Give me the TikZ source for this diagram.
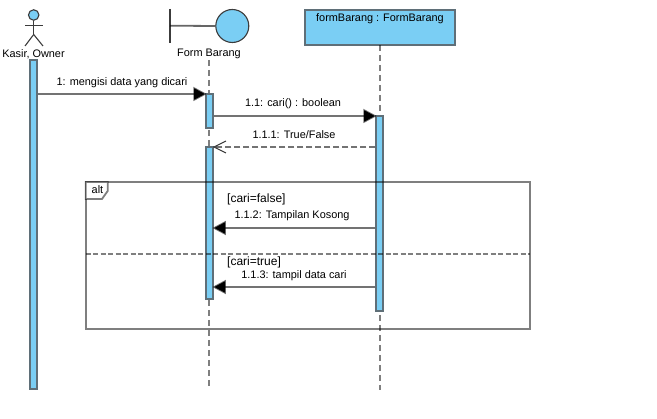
\documentclass[tikz,border=0pt]{standalone}
\usepackage{fontspec}
\setmainfont{Liberation Sans}
\usetikzlibrary{arrows.meta}
\definecolor{lightblue}{HTML}{7ACEF4}
\definecolor{inkdark}{HTML}{3C3C3C}
\definecolor{edgegray}{HTML}{5F6F78}
\tikzset{
  x=1pt,y=-1pt,
  txt/.style={font=\fontsize{10.9}{12}\selectfont,inner sep=0pt,text=black},
  guardtxt/.style={font=\fontsize{12}{13}\selectfont,inner sep=0pt,text=black},
  actorline/.style={draw=inkdark,line width=1.1pt},
  bar/.style={draw=edgegray,fill=lightblue,line width=1.8pt,minimum width=6.8pt,inner sep=0pt,anchor=north},
  life/.style={draw=black,draw opacity=.5,line width=1.8pt,dash pattern=on 6pt off 4pt},
  msg/.style={draw=black,draw opacity=.55,line width=1.8pt},
  solidhead/.style={-{Triangle[black,length=13.5pt,width=14pt,sep=0pt]},shorten >=-1.5pt},
  framebox/.style={draw=black,draw opacity=.5,line width=1.8pt},
}
\begin{document}
\begin{tikzpicture}
\useasboundingbox (0,0) rectangle (657,419);
% lifelines
\coordinate (lifeFtop) at (209,60);
\coordinate (lifeFend) at (209,388);
\coordinate (lifeBend) at (380,390);
\node[draw=edgegray,fill=lightblue,line width=1.8pt,minimum width=150pt,minimum height=35pt,inner sep=0pt,outer sep=0pt,anchor=north] (boxB) at (380,10) {};
\node[txt,anchor=center] (boxBlabel) at (380,18.5) {formBarang : FormBarang};
\draw[life] (lifeFtop) -- (lifeFend);
\draw[life] (boxB.south) -- (lifeBend);
% actor
\node[draw=inkdark,fill=lightblue,circle,minimum size=10.5pt,inner sep=0pt,line width=1.1pt] (head) at (33.7,15) {};
\coordinate (armL) at (25,25.6);
\coordinate (armR) at (43,25.6);
\coordinate (hip) at (33.7,34.5);
\coordinate (legL) at (25,46);
\coordinate (legR) at (43,46);
\draw[actorline] (head.south) -- (hip);
\draw[actorline] (armL) -- (armR);
\draw[actorline] (legL) -- (hip) -- (legR);
\node[txt] (actorlabel) at (33.5,54) {Kasir, Owner};
% boundary
\node[draw=inkdark,fill=lightblue,circle,minimum size=33pt,inner sep=0pt,line width=1.1pt] (bnd) at (232.3,26) {};
\coordinate (barT) at (170,9);
\coordinate (barB) at (170,43.5);
\coordinate (barM) at (170,25.7);
\draw[actorline] (barT) -- (barB);
\draw[draw=black,draw opacity=.6,line width=1.8pt] (barM) -- (bnd.west);
\node[txt] (bndlabel) at (209,54) {Form Barang};
% activations
\node[bar,minimum height=329pt] (actK) at (33.6,59.4) {};
\node[bar,minimum height=34pt] (actF1) at (209.6,93.4) {};
\node[bar,minimum height=152pt] (actF2) at (209.6,146.4) {};
\node[bar,minimum height=195pt] (actB) at (379.6,115.4) {};
% messages
\coordinate (m1a) at (actK.north east |- 0,94);
\coordinate (m1b) at (actF1.north west |- 0,94);
\coordinate (m2a) at (actF1.north east |- 0,116);
\coordinate (m2b) at (actB.north west |- 0,116);
\coordinate (m3a) at (actB.north west |- 0,147);
\coordinate (m3b) at (actF2.north east |- 0,147);
\coordinate (m3u) at (226,141);
\coordinate (m3d) at (226,153);
\coordinate (m4a) at (actB.north west |- 0,228);
\coordinate (m4b) at (actF2.north east |- 0,228);
\coordinate (m5a) at (actB.north west |- 0,287);
\coordinate (m5b) at (actF2.north east |- 0,287);
\draw[msg,solidhead] (m1a) -- (m1b);
\draw[msg,solidhead] (m2a) -- (m2b);
\draw[msg,dash pattern=on 6pt off 3pt] (m3a) -- (m3b);
\draw[black,opacity=.8,line width=1pt] (m3u) -- (m3b) -- (m3d);
\draw[msg,solidhead] (m4a) -- (m4b);
\draw[msg,solidhead] (m5a) -- (m5b);
\node[txt] (l1) at (122,83) {1: mengisi data yang dicari};
\node[txt] (l2) at (293,104) {1.1: cari() : boolean};
\node[txt] (l3) at (294,135) {1.1.1: True/False};
\node[txt] (l4) at (292,216) {1.1.2: Tampilan Kosong};
\node[txt] (l5) at (294,276) {1.1.3: tampil data cari};
% alt frame
\node[framebox,minimum width=444pt,minimum height=147pt,inner sep=0pt,outer sep=0pt,anchor=north west] (alt) at (85.7,182) {};
\coordinate (tagA) at (107.7,182);
\coordinate (tagB) at (107.7,191);
\coordinate (tagC) at (102,199);
\coordinate (tagD) at (85.7,199);
\draw[framebox,fill=white] (alt.north west) -- (tagA) -- (tagB) -- (tagC) -- (tagD) -- cycle;
\node[txt] (altlabel) at (97.5,190) {alt};
\coordinate (sepL) at (alt.west |- 0,254);
\coordinate (sepR) at (alt.east |- 0,254);
\draw[framebox,dash pattern=on 5pt off 2.5pt] (sepL) -- (sepR);
\node[guardtxt,anchor=west] (g1) at (227,199) {[cari=false]};
\node[guardtxt,anchor=west] (g2) at (227,262) {[cari=true]};
\end{tikzpicture}
\end{document}
